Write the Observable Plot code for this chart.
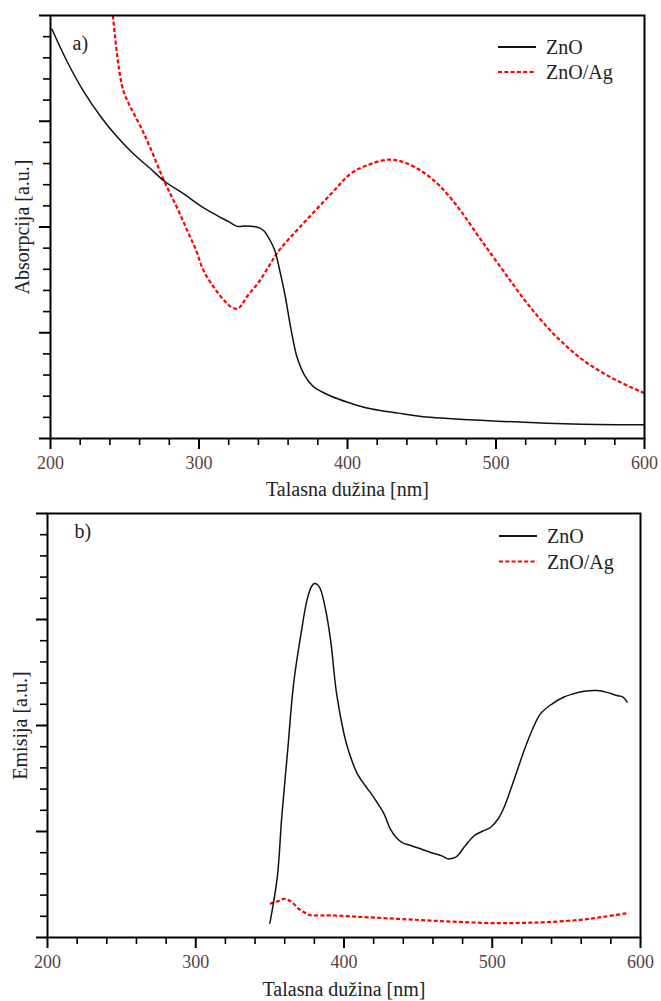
<!DOCTYPE html>
<html>
<head>
<meta charset="utf-8">
<script src="https://cdn.jsdelivr.net/npm/d3@7"></script>
<script src="https://cdn.jsdelivr.net/npm/@observablehq/plot@0.6"></script>
<style>
  html, body { margin: 0; padding: 0; background: #fff; }
  #wrap { position: relative; width: 661px; height: 1001px; overflow: hidden; font-family: "Liberation Serif", "Times New Roman", "DejaVu Serif", serif; }
  #wrap svg { font-family: "Liberation Serif", "Times New Roman", "DejaVu Serif", serif !important; }
  #wrap svg.plot { display: block; }
  #legend { position: absolute; left: 0; top: 0; pointer-events: none; }
</style>
</head>
<body>
<div id="wrap"></div>
<script>
// ---------- Data ----------
// Panel a) absorption spectra
const absZnOWl  = [201, 211, 222, 234, 245, 256, 267, 277, 290, 301, 312, 320, 326, 331, 337, 341, 344, 348, 351, 355, 358, 362, 366, 371, 377, 383, 389, 400, 411, 422, 434, 456, 478, 501, 523, 546, 568, 600];
const absZnO    = [3.87, 3.57, 3.29, 3.04, 2.85, 2.69, 2.555, 2.43, 2.31, 2.20, 2.11, 2.05, 2.005, 2.01, 2.005, 1.99, 1.96, 1.87, 1.78, 1.55, 1.35, 1.03, 0.77, 0.60, 0.49, 0.44, 0.40, 0.343, 0.296, 0.265, 0.24, 0.20, 0.18, 0.164, 0.151, 0.139, 0.132, 0.13];
const absAgWl   = [242, 244, 246, 249, 254, 261, 267, 277, 285, 292, 298, 303, 310, 317, 321, 326, 329, 332, 341, 348, 354, 368, 389, 402, 413, 427, 438, 451, 463, 476, 487, 495, 508, 523, 541, 559, 579, 600];
const absAg     = [4.0, 3.73, 3.51, 3.29, 3.13, 2.94, 2.755, 2.42, 2.19, 1.97, 1.78, 1.59, 1.43, 1.305, 1.25, 1.226, 1.27, 1.336, 1.494, 1.652, 1.78, 2.0, 2.314, 2.503, 2.582, 2.636, 2.613, 2.518, 2.376, 2.156, 1.936, 1.778, 1.525, 1.242, 0.958, 0.738, 0.565, 0.428];

// Panel b) emission spectra
const emZnOWl = [350, 355, 358, 362, 366, 371, 375, 378, 380, 382, 384, 387.5, 391, 395, 400, 403, 409, 415, 420, 427, 431, 436, 440, 445, 458, 466, 470, 472.5, 476, 482, 488, 493, 499, 504, 508, 515, 521.5, 527, 532.5, 540, 548, 555, 562, 571, 578, 584, 588, 591];
const emZnO   = [0.135, 0.569, 1.135, 1.764, 2.393, 2.865, 3.18, 3.31, 3.34, 3.33, 3.29, 3.1, 2.80, 2.30, 1.92, 1.764, 1.544, 1.42, 1.324, 1.167, 1.03, 0.931, 0.89, 0.868, 0.805, 0.77, 0.742, 0.745, 0.764, 0.87, 0.962, 1.0, 1.04, 1.12, 1.229, 1.5, 1.764, 1.96, 2.11, 2.2, 2.267, 2.3, 2.324, 2.33, 2.31, 2.283, 2.27, 2.22];
const emAgWl  = [350, 355, 359.4, 363, 366, 369.5, 373, 376, 380, 391, 413, 436, 458, 481, 503, 520, 537, 559.5, 575, 591];
const emAg    = [0.318, 0.34, 0.365, 0.35, 0.318, 0.27, 0.239, 0.215, 0.208, 0.208, 0.193, 0.176, 0.16, 0.145, 0.135, 0.138, 0.145, 0.167, 0.195, 0.229];

// Axes
const xMajor = [200, 300, 400, 500, 600];
const xMinor = [220, 240, 260, 280, 320, 340, 360, 380, 420, 440, 460, 480, 520, 540, 560, 580];
const yMajor = [0, 1, 2, 3, 4];
const yMinor = [0.2, 0.4, 0.6, 0.8, 1.2, 1.4, 1.6, 1.8, 2.2, 2.4, 2.6, 2.8, 3.2, 3.4, 3.6, 3.8];

const seriesNames = ["ZnO", "ZnO/Ag"];
const xLabel = "Talasna dužina [nm]";

// ---------- Helpers ----------
const zip = (xs, ys) => xs.map((x, i) => ({x, y: ys[i]}));
const FONT = "\"Liberation Serif\", \"Times New Roman\", \"DejaVu Serif\", serif";
const tickColor = "#5a4242";

function panel({height, margin, znoData, agData, yLabel, tag, tagDx, tagDy, xLabelDy, yLabelDx}) {
  return Plot.plot({
    width: 661,
    height,
    marginTop: margin.top, marginRight: margin.right, marginBottom: margin.bottom, marginLeft: margin.left,
    x: {domain: [200, 600]},
    y: {domain: [0, 4]},
    style: {fontFamily: FONT, fontSize: "18px", background: "#fff", color: "#111"},
    marks: [
      Plot.line(agData, {x: "x", y: "y", curve: "catmull-rom", stroke: "#ff0000", strokeWidth: 2.2, strokeDasharray: "4,2.3", strokeLinecap: "butt", clip: true}),
      Plot.line(znoData, {x: "x", y: "y", curve: "catmull-rom", stroke: "#111", strokeWidth: 1.5, clip: true}),
      Plot.frame({stroke: "#000", strokeWidth: 2}),
      Plot.axisX({ticks: xMajor, tickSize: 11, strokeWidth: 2, stroke: "#000", tickPadding: 7, tickFormat: d => String(d), fill: tickColor, fontSize: 18, label: null}),
      Plot.axisX({ticks: xMinor, tickSize: 7, strokeWidth: 1.6, stroke: "#000", tickFormat: () => "", label: null}),
      Plot.axisY({ticks: yMajor, tickSize: 11, strokeWidth: 2, stroke: "#000", tickFormat: () => "", label: null}),
      Plot.axisY({ticks: yMinor, tickSize: 7, strokeWidth: 1.6, stroke: "#000", tickFormat: () => "", label: null}),
      Plot.text([xLabel], {frameAnchor: "bottom", dy: xLabelDy, textAnchor: "middle", lineAnchor: "middle", fontSize: 20, fill: "#222"}),
      Plot.text([yLabel], {frameAnchor: "left", dx: yLabelDx, rotate: -90, textAnchor: "middle", lineAnchor: "middle", fontSize: 20, fill: "#222"}),
      Plot.text([tag], {frameAnchor: "top-left", dx: tagDx, dy: tagDy, textAnchor: "start", lineAnchor: "middle", fontSize: 20, fill: "#222"})
    ]
  });
}

const wrap = document.getElementById("wrap");

const plotA = panel({
  height: 500,
  margin: {top: 15, right: 17, bottom: 62, left: 50},
  znoData: zip(absZnOWl, absZnO),
  agData: zip(absAgWl, absAg),
  yLabel: "Absorpcija [a.u.]",
  tag: "a)", tagDx: 22, tagDy: 28, xLabelDy: 51, yLabelDx: -28
});
plotA.classList.add("plot");
wrap.appendChild(plotA);

const plotB = panel({
  height: 501,
  margin: {top: 13, right: 21, bottom: 64, left: 47},
  znoData: zip(emZnOWl, emZnO),
  agData: zip(emAgWl, emAg),
  yLabel: "Emisija [a.u.]",
  tag: "b)", tagDx: 27, tagDy: 18, xLabelDy: 52, yLabelDx: -27
});
plotB.classList.add("plot");
wrap.appendChild(plotB);

// ---------- Legends (overlay) ----------
const ns = "http://www.w3.org/2000/svg";
const leg = document.createElementNS(ns, "svg");
leg.setAttribute("id", "legend");
leg.setAttribute("width", 661);
leg.setAttribute("height", 1001);
wrap.appendChild(leg);

const legendSpecs = [
  {x1: 498, x2: 536, tx: 546, rows: [47, 72]},
  {x1: 499, x2: 537, tx: 547, rows: [536, 561.5]}
];
const legendStyles = [
  {stroke: "#111", width: 2, dash: null},
  {stroke: "#ff0000", width: 2.2, dash: "4,2.3"}
];
for (const spec of legendSpecs) {
  spec.rows.forEach((cy, i) => {
    const st = legendStyles[i];
    const ln = document.createElementNS(ns, "line");
    ln.setAttribute("x1", spec.x1); ln.setAttribute("x2", spec.x2);
    ln.setAttribute("y1", cy); ln.setAttribute("y2", cy);
    ln.setAttribute("stroke", st.stroke);
    ln.setAttribute("stroke-width", st.width);
    if (st.dash) ln.setAttribute("stroke-dasharray", st.dash);
    leg.appendChild(ln);
    const tx = document.createElementNS(ns, "text");
    tx.setAttribute("x", spec.tx);
    tx.setAttribute("y", cy + 7);
    tx.setAttribute("style", "font-family: " + FONT + "; font-size: 20px;");
    tx.setAttribute("fill", "#222");
    tx.textContent = seriesNames[i];
    leg.appendChild(tx);
  });
}
</script>
</body>
</html>
